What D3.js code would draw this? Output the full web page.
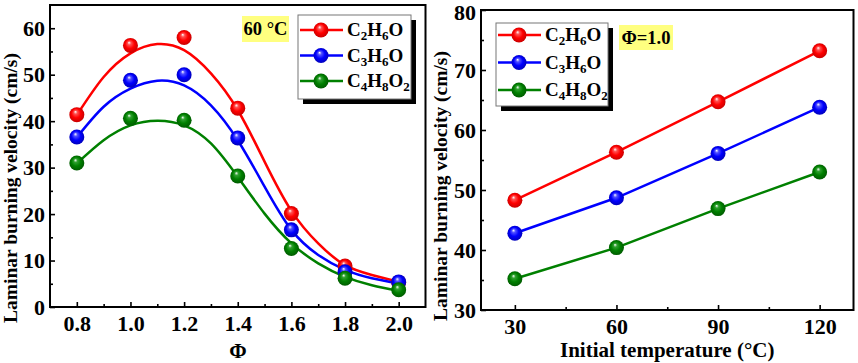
<!DOCTYPE html>
<html>
<head>
<meta charset="utf-8">
<script src="https://cdn.jsdelivr.net/npm/d3@7"></script>
<style>
  body { margin: 0; background: #fff; }
  svg text { font-family: 'Liberation Serif', 'Times New Roman', serif; font-weight: bold; fill: #000; }
</style>
</head>
<body>
<div id="chart"></div>
<script>
// ---- data ----
var species = ['C2H6O', 'C3H6O', 'C4H8O2'];
var colors = ['#ff0000', '#0000ff', '#008000'];

// left: burning velocity vs equivalence ratio at 60 °C
var phi = [0.8, 1.0, 1.2, 1.4, 1.6, 1.8, 2.0];
var phiC2H6O = [41.4, 56.3, 58.0, 42.8, 20.1, 8.8, 5.3];
var phiC3H6O = [36.6, 48.8, 50.0, 36.4, 16.6, 7.6, 5.4];
var phiC4H8O2 = [31.0, 40.6, 40.2, 28.2, 12.6, 6.2, 3.7];

// fitted curves, sampled every 0.1
var fitPhi = [0.8, 0.9, 1.0, 1.1, 1.2, 1.3, 1.4, 1.5, 1.6, 1.7, 1.8, 1.9, 2.0];
var fitC2H6O = [41.3, 49.5, 54.6, 56.6, 55.3, 50.3, 42.4, 31.3, 20.7, 13.7, 9.0, 6.9, 5.4];
var fitC3H6O = [36.5, 43.1, 47.0, 48.7, 47.7, 43.4, 35.9, 25.9, 16.6, 11.2, 8.0, 6.2, 5.1];
var fitC4H8O2 = [30.9, 35.9, 39.1, 40.1, 39.1, 35.2, 28.0, 20.1, 13.7, 9.4, 6.5, 4.7, 3.5];

// right: burning velocity vs initial temperature at phi = 1.0
var temps = [30, 60, 90, 120];
var tempC2H6O = [48.3, 56.3, 64.7, 73.2];
var tempC3H6O = [42.8, 48.7, 56.1, 63.8];
var tempC4H8O2 = [35.2, 40.4, 46.9, 53.0];

var phiTicks = [0.8, 1.0, 1.2, 1.4, 1.6, 1.8, 2.0];
var phiMinor = [0.9, 1.1, 1.3, 1.5, 1.7, 1.9];
var velTicksL = [0, 10, 20, 30, 40, 50, 60];
var velMinorL = [5, 15, 25, 35, 45, 55];
var tempTicks = [30, 60, 90, 120];
var tempMinor = [45, 75, 105];
var velTicksR = [30, 40, 50, 60, 70, 80];
var velMinorR = [35, 45, 55, 65, 75];

var width = 858,
  height = 363;

var svg = d3.select('#chart')
  .append('svg')
  .attr('width', width)
  .attr('height', height);

var defs = svg.append('defs');

// shaded sphere gradients
var shades = [
  ['#ff0000', '#ff5050', '#c00000'],
  ['#0000ff', '#5050ff', '#0000b0'],
  ['#008000', '#30a030', '#005500']
];
shades.forEach(function (s, i) {
  var g = defs.append('radialGradient')
    .attr('id', 'ball' + i)
    .attr('cx', '50%').attr('cy', '50%').attr('r', '55%')
    .attr('fx', '40%').attr('fy', '30%');
  g.append('stop').attr('offset', '0%').attr('stop-color', '#ffffff');
  g.append('stop').attr('offset', '22%').attr('stop-color', s[1]);
  g.append('stop').attr('offset', '55%').attr('stop-color', s[0]);
  g.append('stop').attr('offset', '100%').attr('stop-color', s[2]);
});

function drawFrame(g, box) {
  g.append('rect')
    .attr('x', box.x0)
    .attr('y', box.y0)
    .attr('width', box.x1 - box.x0)
    .attr('height', box.y1 - box.y0)
    .attr('fill', 'none')
    .attr('stroke', '#000')
    .attr('stroke-width', 2);
}

function drawAxes(g, x, y, box, o) {
  var xa = g.append('g')
    .attr('transform', 'translate(0,' + box.y1 + ')')
    .call(d3.axisBottom(x).tickValues(o.xTicks).tickFormat(o.xFmt)
      .tickSize(-5).tickSizeOuter(0).tickPadding(8));
  var xm = g.append('g')
    .attr('transform', 'translate(0,' + box.y1 + ')')
    .call(d3.axisBottom(x).tickValues(o.xMinor).tickFormat('')
      .tickSize(-3).tickSizeOuter(0));
  var ya = g.append('g')
    .attr('transform', 'translate(' + box.x0 + ',0)')
    .call(d3.axisLeft(y).tickValues(o.yTicks).tickFormat(d3.format('d'))
      .tickSize(-5).tickSizeOuter(0).tickPadding(5));
  var ym = g.append('g')
    .attr('transform', 'translate(' + box.x0 + ',0)')
    .call(d3.axisLeft(y).tickValues(o.yMinor).tickFormat('')
      .tickSize(-3).tickSizeOuter(0));

  [xa, xm, ya, ym].forEach(function (a) {
    a.select('.domain').remove();
    a.selectAll('line').attr('stroke', '#000').attr('stroke-width', 1.6);
    a.selectAll('text')
      .attr('font-family', null)
      .attr('font-size', null)
      .style('font-size', '22px');
  });
  return ya;
}

function speciesLabel(sel, name) {
  // digits become subscripts
  name.split(/(\d)/).filter(function (p) { return p; }).forEach(function (p) {
    if (/\d/.test(p)) {
      sel.append('tspan').attr('dy', 4).style('font-size', '13px').text(p);
    } else {
      var t = sel.append('tspan').text(p);
      if (sel.selectAll('tspan').size() > 1) t.attr('dy', -4);
    }
  });
}

function drawLegend(g, lx, ly, w, h, rowY, gap) {
  g.append('rect')
    .attr('x', lx + 5).attr('y', ly + 5)
    .attr('width', w).attr('height', h)
    .attr('fill', '#000');
  g.append('rect')
    .attr('x', lx).attr('y', ly)
    .attr('width', w).attr('height', h)
    .attr('fill', '#fff')
    .attr('stroke', '#777')
    .attr('stroke-width', 1);
  species.forEach(function (s, i) {
    var yy = rowY + i * gap;
    g.append('line')
      .attr('x1', lx + 2).attr('x2', lx + 45)
      .attr('y1', yy).attr('y2', yy)
      .attr('stroke', colors[i]).attr('stroke-width', 2.5);
    g.append('circle')
      .attr('cx', lx + 23).attr('cy', yy).attr('r', 7.5)
      .attr('fill', 'url(#ball' + i + ')');
    var t = g.append('text')
      .attr('x', lx + 49).attr('y', yy + 6)
      .style('font-size', '19px');
    speciesLabel(t, s);
  });
}

function drawTag(g, x0, y0, w, h, label) {
  g.append('rect')
    .attr('x', x0).attr('y', y0)
    .attr('width', w).attr('height', h)
    .attr('fill', '#ffff80');
  g.append('text')
    .attr('x', x0 + w / 2).attr('y', y0 + h / 2 + 6)
    .attr('text-anchor', 'middle')
    .style('font-size', '18.5px')
    .text(label);
}

function drawBalls(g, x, y, xs, ys, i) {
  g.selectAll(null)
    .data(xs)
    .enter()
    .append('circle')
    .attr('cx', function (d) { return x(d); })
    .attr('cy', function (d, j) { return y(ys[j]); })
    .attr('r', 7.5)
    .attr('fill', 'url(#ball' + i + ')');
}

// ---------- left panel ----------
var boxL = { x0: 50, x1: 425.5, y0: 5, y1: 307 };
var xL = d3.scaleLinear().domain([0.7, 2.1]).range([boxL.x0, boxL.x1]);
var yL = d3.scaleLinear().domain([0, 65]).range([boxL.y1, boxL.y0]);
var gL = svg.append('g');

var fits = [fitC2H6O, fitC3H6O, fitC4H8O2];
var phiSets = [phiC2H6O, phiC3H6O, phiC4H8O2];

var fitLine = d3.line()
  .x(function (d) { return xL(d[0]); })
  .y(function (d) { return yL(d[1]); })
  .curve(d3.curveNatural);

fits.forEach(function (f, i) {
  gL.append('path')
    .datum(d3.zip(fitPhi, f))
    .attr('d', fitLine)
    .attr('fill', 'none')
    .attr('stroke', colors[i])
    .attr('stroke-width', 2.5);
});
phiSets.forEach(function (s, i) {
  drawBalls(gL, xL, yL, phi, s, i);
});

drawAxes(gL, xL, yL, boxL, {
  xTicks: phiTicks, xMinor: phiMinor, xFmt: d3.format('.1f'),
  yTicks: velTicksL, yMinor: velMinorL
});
drawFrame(gL, boxL);
drawTag(gL, 242, 16, 47, 26, '60 °C');
drawLegend(gL, 298, 15, 113, 84, 30, 25.5);

gL.append('text')
  .attr('x', 238)
  .attr('y', 358)
  .attr('text-anchor', 'middle')
  .style('font-size', '21px')
  .text('Φ');

gL.append('text')
  .attr('transform', 'translate(17,188) rotate(-90)')
  .attr('text-anchor', 'middle')
  .style('font-size', '19.5px')
  .text('Laminar burning velocity (cm/s)');

// ---------- right panel ----------
var boxR = { x0: 481, x1: 853.5, y0: 10, y1: 310 };
var xR = d3.scaleLinear().domain([20, 130]).range([boxR.x0, boxR.x1]);
var yR = d3.scaleLinear().domain([30, 80]).range([boxR.y1, boxR.y0]);
var gR = svg.append('g');

var tempSets = [tempC2H6O, tempC3H6O, tempC4H8O2];
var straight = d3.line()
  .x(function (d) { return xR(d[0]); })
  .y(function (d) { return yR(d[1]); });

tempSets.forEach(function (s, i) {
  gR.append('path')
    .datum(d3.zip(temps, s))
    .attr('d', straight)
    .attr('fill', 'none')
    .attr('stroke', colors[i])
    .attr('stroke-width', 2.5);
  drawBalls(gR, xR, yR, temps, s, i);
});

var yAxR = drawAxes(gR, xR, yR, boxR, {
  xTicks: tempTicks, xMinor: tempMinor, xFmt: d3.format('d'),
  yTicks: velTicksR, yMinor: velMinorR
});
// top label sits a touch lower so it stays inside the page
yAxR.selectAll('.tick text')
  .filter(function (d) { return d === 80; })
  .attr('dy', '0.45em');

drawFrame(gR, boxR);
drawLegend(gR, 496, 23, 112, 83, 35, 27.5);
drawTag(gR, 619, 25, 54, 25, 'Φ=1.0');

gR.append('text')
  .attr('x', (boxR.x0 + boxR.x1) / 2)
  .attr('y', 357)
  .attr('text-anchor', 'middle')
  .style('font-size', '21px')
  .text('Initial temperature (°C)');

gR.append('text')
  .attr('transform', 'translate(447,186) rotate(-90)')
  .attr('text-anchor', 'middle')
  .style('font-size', '19.5px')
  .text('Laminar burning velocity (cm/s)');
</script>
</body>
</html>
